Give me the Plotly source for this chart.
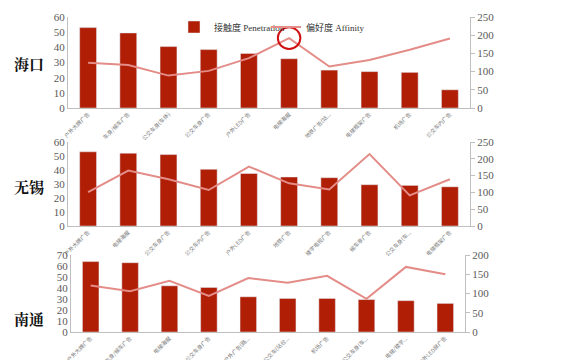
import plotly.graph_objects as go

cities = ["海口", "无锡", "南通"]

cats_hk = ["户外大牌广告", "车身/候车广告", "公交车身(车体)", "公交车身广告", "户外LED广告",
           "电梯海报", "地铁广告(站...", "电梯框架广告", "机场广告", "公交车内广告"]
cats_wx = ["户外大牌广告", "电梯海报", "公交车身广告", "公交车内广告", "户外LED广告",
           "地铁广告", "楼宇电视广告", "候车亭广告", "公交车身(车...", "电梯框架广告"]
cats_nt = ["户外大牌广告", "车身/候车广告", "电梯海报", "公交车身广告", "户外广告(路...",
           "公交车(站台...", "机场广告", "公交车身(车...", "电梯/楼宇...", "户外LED屏广告"]

pen_hk = [53, 49.5, 40.5, 38.5, 36, 32.5, 25, 24, 23.5, 12]
aff_hk = [124, 118, 89, 102, 137, 192, 114, 132, 160, 191]

pen_wx = [53, 52, 51, 40.5, 37.5, 35, 34.5, 29.5, 29, 28]
aff_wx = [101, 165, 139, 107, 177, 127, 109, 214, 91, 139]

pen_nt = [64, 63, 42, 40.5, 32, 30.5, 30.5, 29.5, 28.5, 26]
aff_nt = [121, 106, 133, 94, 140, 128, 146, 86, 169, 150]

left_max = [60, 60, 70]
right_max = [250, 250, 200]

BAR = "#B01E05"
LINE = "#E38C88"
GRID = "#BFBFBF"
TXT = "#595959"

OFF = 8  # page body margin
W, H = 570 - OFF, 360 - OFF
def px_x(p): return (p - OFF) / W
def px_y(p): return 1 - (p - OFF) / H

xdom = [[px_x(68), px_x(470)], [px_x(68), px_x(470)], [px_x(71), px_x(465)]]
ydom = [[px_y(108), px_y(17)], [px_y(226), px_y(142)], [px_y(332), px_y(255)]]

data = [(cats_hk, pen_hk, aff_hk), (cats_wx, pen_wx, aff_wx), (cats_nt, pen_nt, aff_nt)]

fig = go.Figure()
layout = {}
for i, (cats, pen, aff) in enumerate(data):
    xa = "x" if i == 0 else f"x{i+1}"
    ya = f"y{2*i+1}" if i > 0 else "y"
    yb = f"y{2*i+2}"
    fig.add_trace(go.Bar(x=list(range(10)), y=pen, xaxis=xa, yaxis=ya, marker_color=BAR,
                         width=0.42, name="接触度 Penetration", showlegend=(i == 0),
                         legend="legend"))
    fig.add_trace(go.Scatter(x=list(range(10)), y=aff, xaxis=xa, yaxis=yb, mode="lines",
                             line=dict(color=LINE, width=2), name="偏好度 Affinity",
                             showlegend=(i == 0), legend="legend2"))
    xkey = "xaxis" if i == 0 else f"xaxis{i+1}"
    ykey = "yaxis" if i == 0 else f"yaxis{2*i+1}"
    ykey2 = f"yaxis{2*i+2}"
    layout[xkey] = dict(domain=xdom[i], anchor=ya, range=[-0.5, 9.5], tickmode="array",
                        tickvals=list(range(10)), ticktext=cats, tickangle=-45,
                        tickfont=dict(size=5.5, color="#7a7a7a", family="Noto Sans CJK SC"),
                        showline=True, linecolor=GRID, linewidth=1, showgrid=False,
                        ticks="", zeroline=False, fixedrange=True, automargin=False)
    layout[ykey] = dict(domain=ydom[i], anchor=xa, range=[0, left_max[i]], dtick=10,
                        showline=True, linecolor=GRID, linewidth=1, showgrid=False,
                        zeroline=False, ticks="", ticklen=0, automargin=False,
                        tickfont=dict(size=11, color=TXT, family="Liberation Serif"))
    layout[ykey2] = dict(domain=ydom[i], anchor=xa, overlaying=ya, side="right",
                         range=[0, right_max[i]], dtick=50, showline=True, linecolor=GRID,
                         linewidth=1, showgrid=False, zeroline=False, ticks="outside",
                         ticklen=4, tickcolor=GRID, automargin=False,
                         tickfont=dict(size=11, color=TXT, family="Liberation Serif"))

fig.update_layout(**layout)

label_y = [64, 186, 318]
for name, yy in zip(cities, label_y):
    fig.add_annotation(x=px_x(29), y=px_y(yy), xref="paper", yref="paper", text=f"<b>{name}</b>",
                       xanchor="center", yanchor="middle", showarrow=False,
                       font=dict(size=15, color="#111111", family="Noto Serif CJK SC, Noto Sans CJK SC"))

# highlight circle around peak affinity in the first panel
fig.add_shape(type="circle", xref="x", yref="y2", x0=4.72, x1=5.28, y0=162, y1=222,
              line=dict(color="#D01010", width=2))

legfont = dict(size=9, color="#333333", family="Liberation Serif, Noto Sans CJK SC")
fig.update_layout(
    width=W, height=H, margin=dict(l=0, r=0, t=0, b=0, autoexpand=False),
    plot_bgcolor="white", paper_bgcolor="white", bargap=0.5,
    legend=dict(orientation="h", x=px_x(174), y=px_y(27), xanchor="left", yanchor="middle",
                bgcolor="rgba(0,0,0,0)", font=legfont, itemwidth=30),
    legend2=dict(orientation="h", x=px_x(266), y=px_y(27), xanchor="left", yanchor="middle",
                 bgcolor="rgba(0,0,0,0)", font=legfont, itemwidth=30),
    showlegend=True,
)

fig.write_html("out.html")
